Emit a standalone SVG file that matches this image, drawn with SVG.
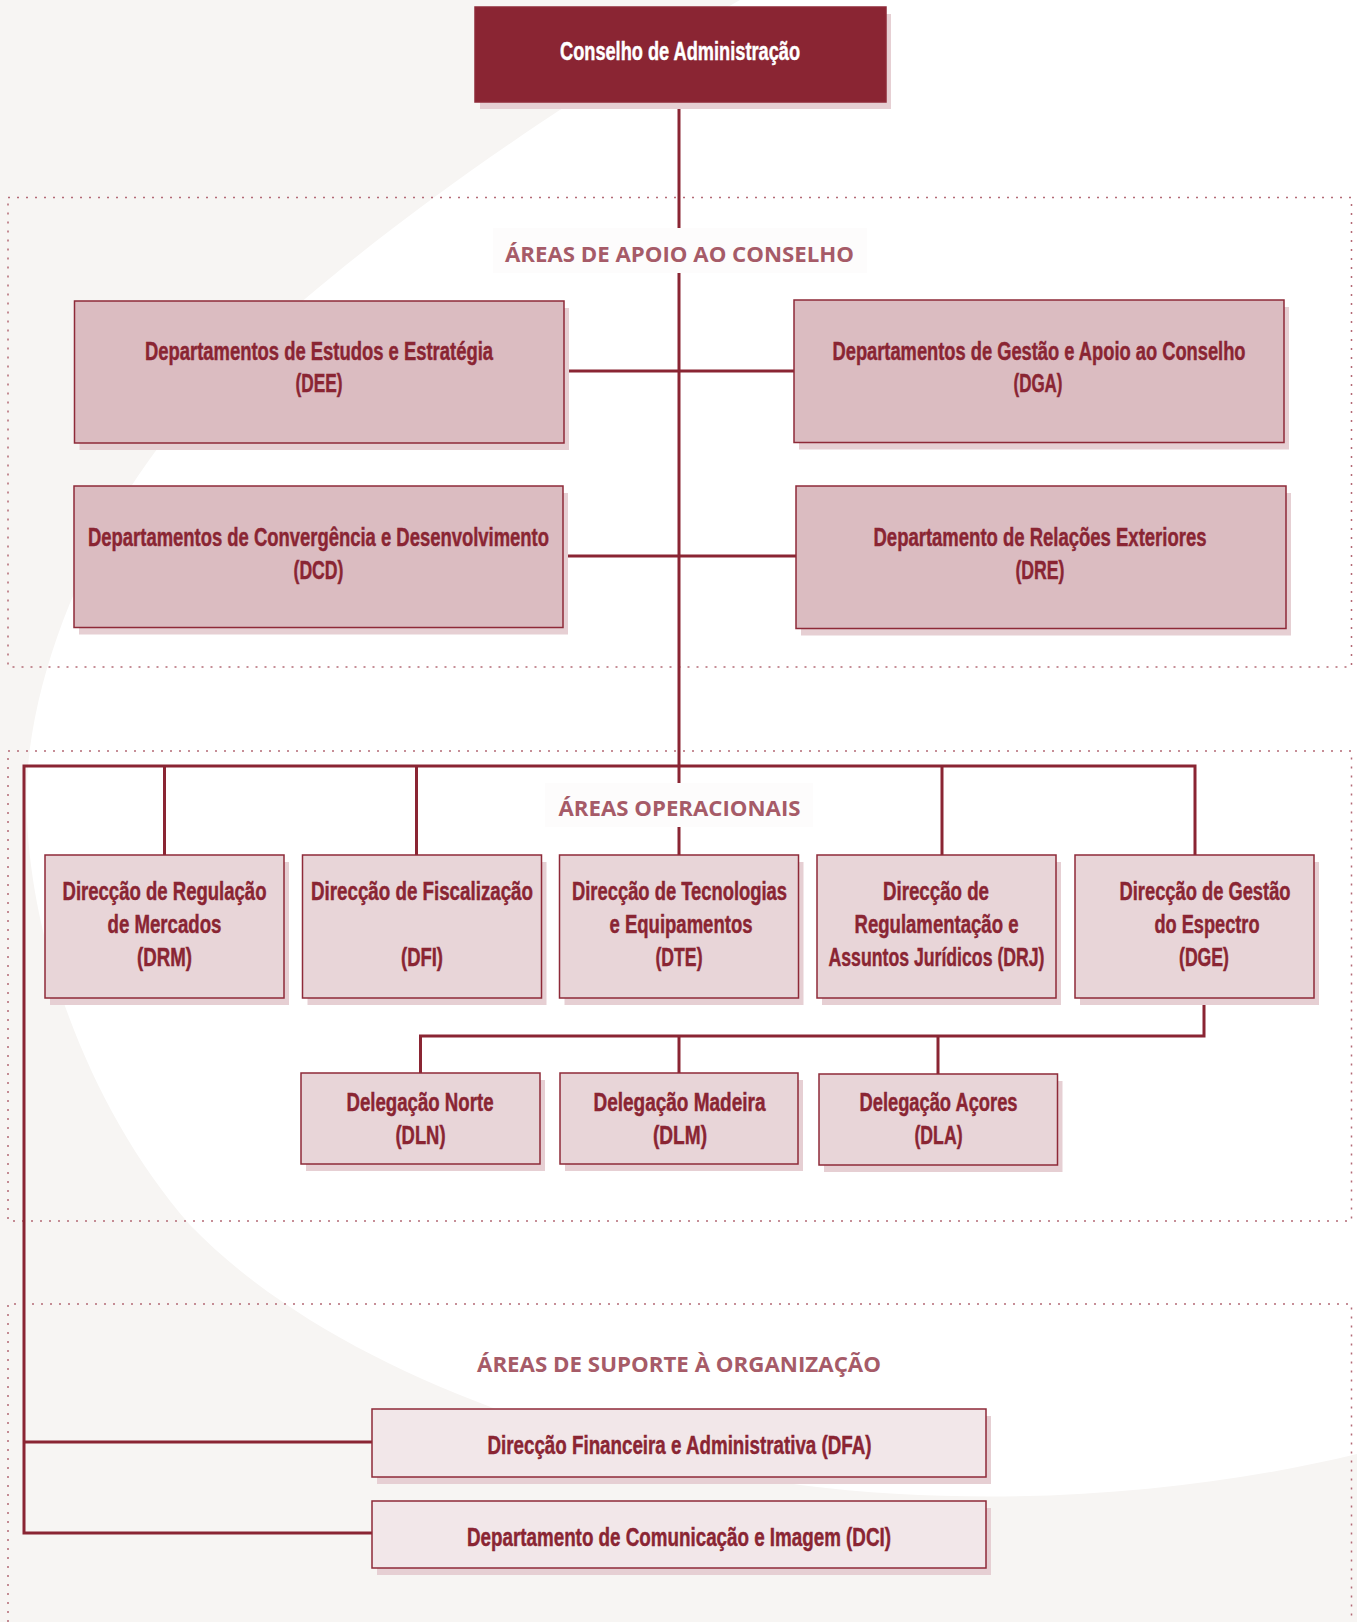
<svg xmlns="http://www.w3.org/2000/svg" width="1357" height="1622" viewBox="0 0 1357 1622">
<defs>
<style>
.bx{stroke:#8e2a38;stroke-width:1.5}
.sh{fill:#e6cfd3}
.top{fill:#8a2533}
.l2{fill:#dbbcc1}
.l3{fill:#e8d5d8}
.l4{fill:#f2e7e9}
.t{font-family:"Liberation Sans Narrow","Liberation Sans","DejaVu Sans Condensed",sans-serif;font-weight:bold;font-size:25px;fill:#8a2533;stroke:#8a2533;stroke-width:0.45;text-anchor:middle}
.tw{fill:#ffffff;stroke:#ffffff}
.lbl{font-family:"Open Sans","Noto Sans","Liberation Sans",sans-serif;font-weight:700;font-size:21px;fill:#a65b68;text-anchor:middle}
.lbg{fill:#fdfcfc}
.dot{fill:none;stroke:#b46a76;stroke-width:1.5;stroke-dasharray:2 7}
.cn{fill:none;stroke:#8a2533;stroke-width:3}
</style>
</defs>

<g id="background">
<rect x="0" y="0" width="1357" height="1622" fill="#f7f5f3"/>
<path d="M740,0 C560,100 300,280 180,420 C80,540 20,700 27,820 C33,950 90,1110 190,1225 C320,1360 560,1450 800,1485 C1000,1510 1200,1492 1357,1454 L1357,0 Z" fill="#ffffff"/>
</g>

<g id="areas">
<rect class="dot" x="8" y="197.5" width="1343.5" height="469.5"/>
<rect class="dot" x="8" y="751" width="1343.5" height="470"/>
<path class="dot" d="M8,1622 V1304 H1351.5 V1622"/>
</g>

<g id="connectors">
<path class="cn" d="M679,102 V855"/>
<path class="cn" d="M564,371 H794"/>
<path class="cn" d="M563,556 H796"/>
<path class="cn" d="M372,1533 H24 V766 H1195 V855"/>
<path class="cn" d="M24,1442 H372"/>
<path class="cn" d="M164.5,766 V855"/>
<path class="cn" d="M416.5,766 V855"/>
<path class="cn" d="M942,766 V855"/>
<path class="cn" d="M420.5,1073 V1036 H1204 V998"/>
<path class="cn" d="M679,1036 V1073"/>
<path class="cn" d="M938,1036 V1074"/>
</g>

<g id="labels">
<rect class="lbg" x="493" y="228" width="374" height="45"/>
<text class="lbl" x="679.5" y="262" textLength="349" lengthAdjust="spacingAndGlyphs">ÁREAS DE APOIO AO CONSELHO</text>
<rect class="lbg" x="545" y="783" width="268" height="44"/>
<text class="lbl" x="679.5" y="816" textLength="242" lengthAdjust="spacingAndGlyphs">ÁREAS OPERACIONAIS</text>
<text class="lbl" x="679" y="1372" textLength="404" lengthAdjust="spacingAndGlyphs">ÁREAS DE SUPORTE À ORGANIZAÇÃO</text>
</g>

<g id="conselho">
<rect class="sh" x="480" y="14" width="411" height="95"/>
<rect class="top bx" x="475" y="7" width="411" height="95"/>
<text class="t tw" x="680" y="60" textLength="240" lengthAdjust="spacingAndGlyphs">Conselho de Administração</text>
</g>

<g id="dee">
<rect class="sh" x="79.5" y="308" width="489.5" height="142"/>
<rect class="l2 bx" x="74.5" y="301" width="489.5" height="142"/>
<text class="t" x="319" y="360" textLength="348" lengthAdjust="spacingAndGlyphs">Departamentos de Estudos e Estratégia</text>
<text class="t" x="319" y="392" textLength="47" lengthAdjust="spacingAndGlyphs">(DEE)</text>
</g>

<g id="dga">
<rect class="sh" x="799" y="307" width="490" height="142.5"/>
<rect class="l2 bx" x="794" y="300" width="490" height="142.5"/>
<text class="t" x="1039" y="360" textLength="413" lengthAdjust="spacingAndGlyphs">Departamentos de Gestão e Apoio ao Conselho</text>
<text class="t" x="1038" y="392" textLength="49" lengthAdjust="spacingAndGlyphs">(DGA)</text>
</g>

<g id="dcd">
<rect class="sh" x="79" y="493" width="489" height="141.5"/>
<rect class="l2 bx" x="74" y="486" width="489" height="141.5"/>
<text class="t" x="318.5" y="546" textLength="461" lengthAdjust="spacingAndGlyphs">Departamentos de Convergência e Desenvolvimento</text>
<text class="t" x="318.5" y="579" textLength="50" lengthAdjust="spacingAndGlyphs">(DCD)</text>
</g>

<g id="dre">
<rect class="sh" x="801" y="493" width="490" height="142.5"/>
<rect class="l2 bx" x="796" y="486" width="490" height="142.5"/>
<text class="t" x="1040" y="546" textLength="333" lengthAdjust="spacingAndGlyphs">Departamento de Relações Exteriores</text>
<text class="t" x="1040" y="579" textLength="49" lengthAdjust="spacingAndGlyphs">(DRE)</text>
</g>

<g id="drm">
<rect class="sh" x="50" y="862" width="239" height="143"/>
<rect class="l3 bx" x="45" y="855" width="239" height="143"/>
<text class="t" x="164.5" y="900" textLength="204" lengthAdjust="spacingAndGlyphs">Direcção de Regulação</text>
<text class="t" x="164.5" y="933" textLength="114" lengthAdjust="spacingAndGlyphs">de Mercados</text>
<text class="t" x="164.5" y="966" textLength="55" lengthAdjust="spacingAndGlyphs">(DRM)</text>
</g>

<g id="dfi">
<rect class="sh" x="307.5" y="862" width="239" height="143"/>
<rect class="l3 bx" x="302.5" y="855" width="239" height="143"/>
<text class="t" x="422" y="900" textLength="222" lengthAdjust="spacingAndGlyphs">Direcção de Fiscalização</text>
<text class="t" x="422" y="966" textLength="42" lengthAdjust="spacingAndGlyphs">(DFI)</text>
</g>

<g id="dte">
<rect class="sh" x="564.5" y="862" width="239" height="143"/>
<rect class="l3 bx" x="559.5" y="855" width="239" height="143"/>
<text class="t" x="679.5" y="900" textLength="215" lengthAdjust="spacingAndGlyphs">Direcção de Tecnologias</text>
<text class="t" x="681" y="933" textLength="143" lengthAdjust="spacingAndGlyphs">e Equipamentos</text>
<text class="t" x="679" y="966" textLength="47" lengthAdjust="spacingAndGlyphs">(DTE)</text>
</g>

<g id="drj">
<rect class="sh" x="822" y="862" width="239" height="143"/>
<rect class="l3 bx" x="817" y="855" width="239" height="143"/>
<text class="t" x="936" y="900" textLength="106" lengthAdjust="spacingAndGlyphs">Direcção de</text>
<text class="t" x="936.5" y="933" textLength="164" lengthAdjust="spacingAndGlyphs">Regulamentação e</text>
<text class="t" x="936.5" y="966" textLength="216" lengthAdjust="spacingAndGlyphs">Assuntos Jurídicos (DRJ)</text>
</g>

<g id="dge">
<rect class="sh" x="1080" y="862" width="239" height="143"/>
<rect class="l3 bx" x="1075" y="855" width="239" height="143"/>
<text class="t" x="1205" y="900" textLength="171" lengthAdjust="spacingAndGlyphs">Direcção de Gestão</text>
<text class="t" x="1207" y="933" textLength="105" lengthAdjust="spacingAndGlyphs">do Espectro</text>
<text class="t" x="1204" y="966" textLength="50" lengthAdjust="spacingAndGlyphs">(DGE)</text>
</g>

<g id="dln">
<rect class="sh" x="306" y="1080" width="239" height="91"/>
<rect class="l3 bx" x="301" y="1073" width="239" height="91"/>
<text class="t" x="420" y="1111" textLength="147" lengthAdjust="spacingAndGlyphs">Delegação Norte</text>
<text class="t" x="420.5" y="1144" textLength="50" lengthAdjust="spacingAndGlyphs">(DLN)</text>
</g>

<g id="dlm">
<rect class="sh" x="565" y="1080" width="238" height="91"/>
<rect class="l3 bx" x="560" y="1073" width="238" height="91"/>
<text class="t" x="679.5" y="1111" textLength="172" lengthAdjust="spacingAndGlyphs">Delegação Madeira</text>
<text class="t" x="680" y="1144" textLength="54" lengthAdjust="spacingAndGlyphs">(DLM)</text>
</g>

<g id="dla">
<rect class="sh" x="824" y="1081" width="238.5" height="91"/>
<rect class="l3 bx" x="819" y="1074" width="238.5" height="91"/>
<text class="t" x="938.5" y="1111" textLength="158" lengthAdjust="spacingAndGlyphs">Delegação Açores</text>
<text class="t" x="938.5" y="1144" textLength="48" lengthAdjust="spacingAndGlyphs">(DLA)</text>
</g>

<g id="dfa">
<rect class="sh" x="377" y="1416" width="614" height="68"/>
<rect class="l4 bx" x="372" y="1409" width="614" height="68"/>
<text class="t" x="679.5" y="1454" textLength="384" lengthAdjust="spacingAndGlyphs">Direcção Financeira e Administrativa (DFA)</text>
</g>

<g id="dci">
<rect class="sh" x="377" y="1508" width="614" height="67"/>
<rect class="l4 bx" x="372" y="1501" width="614" height="67"/>
<text class="t" x="679" y="1546" textLength="424" lengthAdjust="spacingAndGlyphs">Departamento de Comunicação e Imagem (DCI)</text>
</g>
</svg>
